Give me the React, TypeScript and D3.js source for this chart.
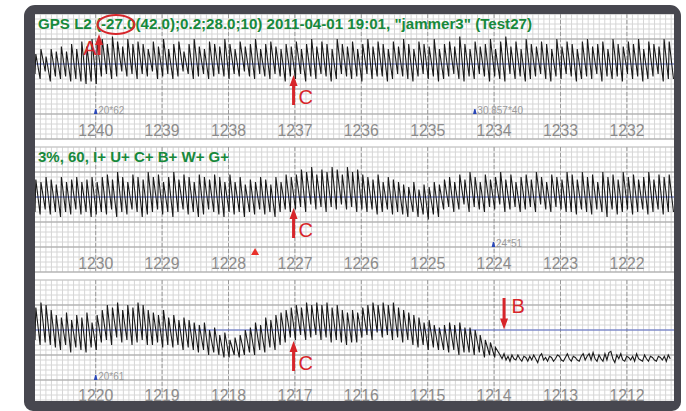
import React from "react";
import * as d3 from "d3";

// ---------------- DATA ----------------
const PANEL_FIRST_MIN = [1240, 1230, 1220];
const PANEL_TICKS = [
  [1240, 1239, 1238, 1237, 1236, 1235, 1234, 1233, 1232],
  [1230, 1229, 1228, 1227, 1226, 1225, 1224, 1223, 1222],
  [1220, 1219, 1218, 1217, 1216, 1215, 1214, 1213, 1212],
];
const PANEL_TITLES = [
  'GPS L2 (-27.0(42.0);0.2;28.0;10) 2011-04-01 19:01, "jammer3" (Test27)',
  "3%, 60, I+ U+ C+ B+ W+ G+",
  "",
];

// oscillation: one peak + one trough per cycle (value units: baseline 0, major line = 10)
const P1_PEAKS = [
  4, 6, 3, 6, 5,
  7, 5, 8, 6,
  9, 7, 10, 9,
  10, 8, 11, 9, 7, 10, 8, 9,
  8, 6, 9, 7, 10, 6, 8, 9, 5, 8, 10, 7, 6, 9, 8, 7, 10, 8, 6, 9, 7, 8, 10, 6, 8, 9, 7, 6, 8,
  7, 9, 6, 8, 10, 7, 9, 8, 6, 10,
  8, 7, 9, 6, 8, 10, 7, 9, 8, 6,
  9, 7, 10, 8, 6, 9, 8, 7, 10, 6,
  8, 9, 7, 11, 8, 6, 9, 7, 8, 10,
  6, 9, 11, 7, 9, 6, 10, 8, 7, 9,
  8, 6, 10, 7, 9, 8, 6, 9, 10, 7,
  8, 9, 6, 10, 8, 7, 9, 8, 10, 6,
  9, 8, 7, 10, 9,
];
const P1_TROUGHS = [
  -4, -6, -3, -7, -5,
  -6, -5, -7, -6,
  -7, -8, -7, -8,
  -5, -4, -6, -5, -3, -5, -4, -6,
  -4, -5, -3, -6, -5, -4, -6, -5, -3, -4, -6, -5, -4, -6, -5, -4, -5, -6, -4, -5, -3, -5, -6, -4, -5, -6, -4, -5, -7,
  -5, -6, -4, -7, -5, -6, -4, -5, -7, -6,
  -4, -5, -6, -5, -7, -4, -6, -5, -5, -7,
  -6, -4, -5, -6, -7, -5, -4, -6, -5, -7,
  -6, -5, -4, -6, -7, -5, -6, -4, -5, -7,
  -5, -6, -7, -4, -6, -5, -7, -6, -5, -4,
  -6, -7, -5, -6, -4, -5, -7, -6, -5, -6,
  -4, -7, -5, -6, -5, -7, -4, -6, -5, -7,
  -6, -5, -4, -7, -6,
];
const P2_PEAKS = [
  7, 6, 8, 7, 5, 8, 6, 7, 8, 6, 7, 8, 6,
  8, 9, 7, 10, 8, 6, 9, 8, 7, 10, 8, 9, 6, 8, 10, 7, 9, 8, 6, 9, 8, 7, 9, 8, 6, 9,
  6, 8, 5, 7, 6, 8, 7, 5, 8, 6, 9, 8,
  9, 11, 10, 12, 9, 11, 10, 12, 11, 9, 12, 10, 11, 9,
  8, 7, 9, 6, 8, 7, 6,
  5, 4, 6, 3, 5, 4, 6, 5,
  7, 8, 6, 9, 7, 10, 8, 6, 9, 7, 8, 10, 7, 9, 6, 8, 9, 7, 10, 8, 6, 9, 8, 7, 10,
  9, 7, 10, 8, 9, 6, 10, 8, 9, 7, 10, 8, 9, 7, 8, 10, 7, 9, 8, 9,
];
const P2_TROUGHS = [
  -6, -7, -5, -7, -6, -8, -6, -7, -5, -7, -6, -8, -7,
  -6, -7, -5, -8, -6, -7, -5, -6, -8, -7, -6, -5, -7, -6, -8, -6, -5, -7, -6, -8, -7, -5, -6, -7, -8, -6,
  -7, -6, -8, -6, -7, -5, -7, -6, -8, -6, -5, -6,
  -5, -4, -6, -3, -5, -4, -6, -4, -5, -3, -5, -4, -6, -5,
  -6, -5, -7, -6, -5, -7, -6,
  -7, -8, -6, -8, -7, -9, -7, -8,
  -5, -4, -6, -5, -3, -6, -4, -5, -6, -4, -5, -3, -6, -5, -4, -6, -5, -4, -6, -3, -5, -6, -4, -5, -6,
  -6, -7, -5, -6, -7, -5, -6, -8, -5, -7, -6, -5, -7, -6, -5, -7, -6, -5, -7, -6,
];
const P3_PEAKS = [
  9, 11, 10, 8,
  6, 5, 7, 4, 6,
  5, 7, 3, 6,
  8, 10, 9, 11, 8, 10, 9, 11, 10, 8,
  7, 6, 8, 5, 6, 4, 5, 4,
  3, 2, 3, 0, 1, -2, -1, -4, -3,
  -2, 0, 1, 3, 2, 5, 4, 6, 7,
  8, 9, 10, 9, 11, 10, 11, 10, 11, 9, 10, 8, 7, 8,
  7, 9, 10, 11, 10, 11, 10, 11, 9, 8, 7,
  6, 5, 3, 4, 2, 1,
  2, 3, 2, 3, 1, 1,
  0, -2, -4, -5, -7,
];
const P3_TROUGHS = [
  -4, -6, -5, -6,
  -7, -8, -6, -9, -7,
  -8, -9, -7, -8,
  -5, -4, -6, -3, -5, -4, -6, -5, -4, -6,
  -6, -5, -7, -6, -7, -6, -8, -7,
  -8, -9, -8, -10, -9, -10, -11, -11, -10,
  -11, -10, -9, -10, -8, -9, -7, -8, -6,
  -5, -3, -4, -2, -4, -3, -2, -4, -3, -5, -4, -5, -6, -5,
  -5, -3, -2, -4, -1, -3, -2, -4, -3, -5, -4,
  -6, -7, -6, -8, -7, -8,
  -8, -9, -8, -10, -9, -9,
  -10, -9, -11, -10, -11,
];
// flat noisy tail after B (panel 3)
const P3_NOISE = [
  -10, -11.5, -9.5, -12, -10.5, -12.5, -10, -11.5, -12, -10,
  -11.5, -12.5, -10.5, -11, -12.5, -10.5, -12, -10, -11.5, -13,
  -10.5, -9.5, -12, -11, -12.5, -10.5, -11, -12.5, -11.5, -10,
  -10.5, -12, -12.5, -11, -9.5, -11.5, -12.5, -10.5, -11, -12,
  -12.5, -10.5, -9.5, -12, -10.5, -9.5, -12, -9, -11.5, -12.5,
  -10, -11.5, -12.5, -9.5, -12, -9, -8.5, -11.5, -13, -10,
  -11.5, -9.5, -12, -12.5, -10.5, -11, -12, -10.5, -12.5, -9.5,
  -11.5, -12, -12.5, -10, -11.5, -12.5, -10.5, -11, -12, -12.5,
  -10.5, -11, -12, -10.5, -12.5, -10, -11.5,
];
const PANEL_PEAKS = [P1_PEAKS, P2_PEAKS, P3_PEAKS];
const PANEL_TROUGHS = [P1_TROUGHS, P2_TROUGHS, P3_TROUGHS];
const PANEL_NOISE = [[], [], P3_NOISE];

const CYCLES_PER_MIN = 13;
const TRACE_LEAD_MIN = 0.914; // trace starts this many minutes before first tick
const NOISE_START_MIN = [0, 0, 1213.91];
const NOISE_STEP_MIN = 0.0298;

const BLUE_MARKS = [
  { panel: 0, minute: 1240, label: "20*62" },
  { panel: 0, minute: 1234.29, label: "30.857*40" },
  { panel: 1, minute: 1224.01, label: "24*51" },
  { panel: 2, minute: 1220, label: "20*61" },
];
const RED_MARKS = [{ panel: 1, minute: 1227.6 }];
const ARROWS = [
  { panel: 0, minute: 1239.95, from: 3.6, to: 12, label: "A" },
  { panel: 0, minute: 1237.02, from: -16.4, to: -4.4, label: "C" },
  { panel: 1, minute: 1227.02, from: -16.4, to: -4.4, label: "C" },
  { panel: 2, minute: 1217.02, from: -16.4, to: -4.4, label: "C" },
  { panel: 2, minute: 1213.85, from: 12.8, to: 0.2, label: "B" },
];

// ---------------- LAYOUT ----------------
const W = 686;
const H = 411;
const IX0 = 35;
const IX1 = 674;
const IY0 = 14;
const IY1 = 401;
const PANEL_STEP = 133;
const X_TICK0 = 95.7;
const PX_PER_MIN = 66.4;
const FONT = "'Liberation Sans', Arial, Helvetica, sans-serif";
const RED = "#d7262b";
const GREEN = "#17893b";

function Panel({ p }: { p: number }) {
  const y0 = IY0 + PANEL_STEP * p;
  const M0 = PANEL_FIRST_MIN[p];
  const x = d3.scaleLinear().domain([M0, M0 - 8]).range([X_TICK0, X_TICK0 + 8 * PX_PER_MIN]);
  const y = d3.scaleLinear().domain([0, 10]).range([y0 + 50, y0 + 25]);
  const tLeft = x.invert(IX0);
  const tRight = x.invert(IX1);
  const minorV = d3
    .range(Math.ceil((tRight - M0) * 12), Math.floor((tLeft - M0) * 12) + 1)
    .map((k) => M0 + k / 12);
  const minorH = d3.range(-30, 20.01, 2);
  const gTop = y(20);
  const gBot = y(-30);

  const peaks = PANEL_PEAKS[p];
  const troughs = PANEL_TROUGHS[p];
  const pts: [number, number][] = [];
  const per = 1 / CYCLES_PER_MIN;
  peaks.forEach((pk, i) => {
    const t = M0 + TRACE_LEAD_MIN - i * per;
    pts.push([t, troughs[i]]);
    pts.push([t - 0.16 * per, pk]);
  });
  const noise = PANEL_NOISE[p];
  if (noise.length) {
    noise.forEach((v, k) => pts.push([NOISE_START_MIN[p] - k * NOISE_STEP_MIN, v]));
  } else {
    const tl = M0 + TRACE_LEAD_MIN - peaks.length * per;
    pts.push([tl, troughs[troughs.length - 1]]);
  }
  const line = d3
    .line<[number, number]>()
    .x((d) => x(d[0]))
    .y((d) => y(d[1]));

  const clipId = `clip${p}`;
  return (
    <g>
      <defs>
        <clipPath id={clipId}>
          <rect x={IX0} y={gTop} width={IX1 - IX0} height={gBot - gTop} />
        </clipPath>
      </defs>
      {minorV.map((t, i) => (
        <line key={"mv" + i} x1={x(t)} x2={x(t)} y1={gTop} y2={gBot} stroke="#d6d6d6" strokeWidth={1} />
      ))}
      {minorH.map((v, i) => (
        <line key={"mh" + i} x1={IX0} x2={IX1} y1={y(v)} y2={y(v)} stroke="#d6d6d6" strokeWidth={1} />
      ))}
      {[20, 10, -10, -20, -30].map((v) => (
        <line key={"MH" + v} x1={IX0} x2={IX1} y1={y(v)} y2={y(v)} stroke={v === 20 ? "#c4c4c4" : "#a3a3a3"} strokeWidth={1} />
      ))}
      {PANEL_TICKS[p].map((m) => (
        <line key={"MV" + m} x1={x(m)} x2={x(m)} y1={gTop} y2={gBot} stroke="#9a9a9a" strokeWidth={1} strokeDasharray="4,2" />
      ))}
      <line x1={IX0} x2={IX1} y1={y(0)} y2={y(0)} stroke="#5566c4" strokeWidth={1} />
      {PANEL_TICKS[p].map((m) => (
        <text key={"T" + m} x={x(m)} y={Math.min(y0 + 121.5, IY1)} textAnchor="middle" fontFamily={FONT} fontSize={17} fill="#8c8c8c" textLength={35} lengthAdjust="spacingAndGlyphs">
          {m}
        </text>
      ))}
      <path d={line(pts) || ""} fill="none" stroke="#1a1a1a" strokeWidth={1.1} strokeLinejoin="miter" clipPath={`url(#${clipId})`} />
      {PANEL_TITLES[p] ? (
        <text x={38} y={y0 + 14.5} fontFamily={FONT} fontWeight="bold" fontSize={15} fill={GREEN} textLength={p === 0 ? 494 : 191} lengthAdjust="spacingAndGlyphs">
          {PANEL_TITLES[p]}
        </text>
      ) : null}
      {BLUE_MARKS.filter((b) => b.panel === p).map((b, i) => {
        const bx = x(b.minute);
        const by = y(-20);
        return (
          <g key={"b" + i}>
            <path d={`M${bx - 1.8},${by} L${bx + 1.8},${by} L${bx + 0.6},${by - 5} L${bx - 0.6},${by - 5} Z`} fill="#2a47b8" />
            <text x={bx + 2.5} y={by - 0.5} fontFamily={FONT} fontSize={10} fill="#9a9a9a">
              {b.label}
            </text>
          </g>
        );
      })}
      {RED_MARKS.filter((r) => r.panel === p).map((r, i) => {
        const rx = x(r.minute);
        const ry = y(-20);
        return <path key={"r" + i} d={`M${rx - 4},${ry + 8} L${rx + 4},${ry + 8} L${rx},${ry + 1} Z`} fill="#e8302a" />;
      })}
      {ARROWS.filter((a) => a.panel === p).map((a, i) => {
        const ax = x(a.minute);
        const yf = y(a.from);
        const yt = y(a.to);
        const s = yt < yf ? 1 : -1;
        const hb = yt + s * 11;
        const d = `M${ax - 1.5},${yf} L${ax - 1.5},${hb} L${ax - 4},${hb} L${ax},${yt} L${ax + 4},${hb} L${ax + 1.5},${hb} L${ax + 1.5},${yf} Z`;
        let lx = ax + 5;
        let ly = yf - 1;
        let anchor = "start";
        if (a.label === "A") {
          lx = ax - 2.5;
          ly = yf;
          anchor = "end";
        }
        if (s === -1) {
          lx = ax + 7.5;
          ly = yf + 15;
        }
        return (
          <g key={"a" + i}>
            <path d={d} fill={RED} />
            <text x={lx} y={ly} textAnchor={anchor} fontFamily={FONT} fontSize={20} fill={RED}>
              {a.label}
            </text>
          </g>
        );
      })}
    </g>
  );
}

export default function App() {
  const frame =
    `M${24 + 11},5 H${681 - 11} A11,11 0 0 1 681,${5 + 11} V${H - 9} A9,9 0 0 1 ${681 - 9},${H} H${24 + 9} A9,9 0 0 1 24,${H - 9} V${5 + 11} A11,11 0 0 1 ${24 + 11},5 Z ` +
    `M${IX0},${IY0} V${IY1} H${IX1} V${IY0} Z`;
  return (
    <svg width={W} height={H} style={{ position: "fixed", left: 0, top: 0, background: "#fff" }}>
      <rect x={0} y={0} width={W} height={H} fill="#fff" />
      {[0, 1, 2].map((p) => (
        <Panel key={p} p={p} />
      ))}
      <ellipse cx={116} cy={24.5} rx={18.5} ry={9.5} fill="none" stroke={RED} strokeWidth={2} />
      <path d={frame} fill="#47474f" fillRule="evenodd" />
    </svg>
  );
}
